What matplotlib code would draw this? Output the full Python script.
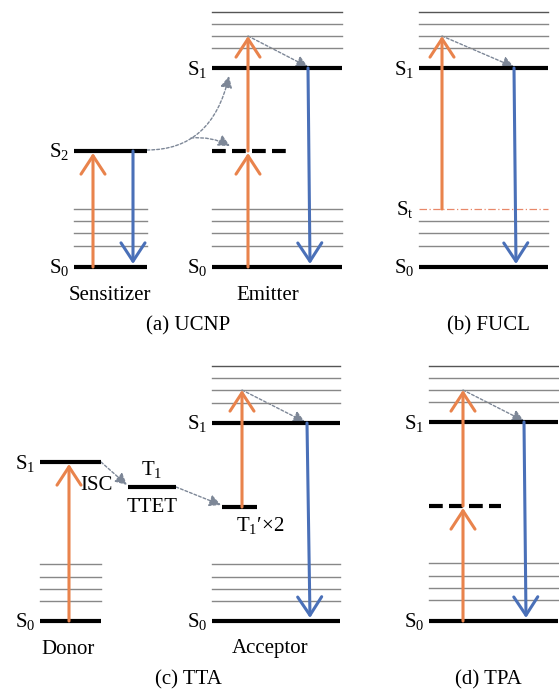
import numpy as np
import matplotlib.pyplot as plt
from matplotlib.patches import FancyArrowPatch
from matplotlib.path import Path

plt.rcParams['font.family'] = ['Liberation Serif', 'DejaVu Serif']
plt.rcParams['mathtext.fontset'] = 'custom'
plt.rcParams['mathtext.rm'] = 'Liberation Serif'
plt.rcParams['mathtext.it'] = 'Liberation Serif:italic'

# energy levels, in diagram units (y grows downward)
# (a) UCNP
sens_x = (74, 147)
sens_S0, sens_S2 = 267, 151
sens_thin = [209, 221, 233, 246]
emit_x = (212, 342)
emit_S0, emit_S1, emit_virt = 267, 68, 151
emit_virt_x = (212, 286)
emit_thin_low = [209, 221, 233, 246]
emit_thin_up = [12, 24, 36, 48]
# (b) FUCL
fucl_x = (419, 548)
fucl_S0, fucl_S1, fucl_St = 267, 68, 209
fucl_thin_low = [221, 233, 246]
fucl_thin_up = [12, 24, 36, 48]
# (c) TTA
don_x = (40, 101)
don_S0, don_S1 = 621, 462
don_thin = [564, 577, 589, 601]
t1_x, t1_y = (128, 176), 487
t1p_x, t1p_y = (222, 257), 507
acc_x = (212, 340)
acc_S0, acc_S1 = 621, 423
acc_thin_up = [366, 378, 390, 403]
acc_thin_low = [564, 577, 589, 601]
# (d) TPA
tpa_x = (429, 558)
tpa_S0, tpa_S1, tpa_virt = 621, 422, 506
tpa_virt_x = (429, 501)
tpa_thin_up = [366, 378, 390, 402]
tpa_thin_low = [563, 576, 588, 600]

ORANGE = '#e9834c'
BLUE = '#4a70b8'
GREY = '#7d8797'
FS = 15

fig = plt.figure(figsize=(5.59, 6.92), dpi=100)
ax = fig.add_axes([0, 0, 1, 1])
ax.set_xlim(0, 559)
ax.set_ylim(692, 0)
ax.axis('off')


def thick(xs, y, **kw):
    ax.plot(xs, [y, y], color='black', lw=3.0, solid_capstyle='butt', **kw)


def dashed(xs, y):
    ax.plot(xs, [y, y], color='black', lw=3.0, linestyle=(0, (3.3, 1.5)),
            dash_capstyle='butt')


def thin(xs, ys):
    for i, y in enumerate(ys):
        c = '#555555' if i == 0 and len(ys) == 4 and y in (12, 366) else '#888888'
        ax.plot(xs, [y, y], color=c, lw=1.0)


def arrow(x0, y0, x1, y1, color):
    ax.annotate('', xy=(x1, y1), xytext=(x0, y0),
                arrowprops=dict(arrowstyle='->,head_length=0.55,head_width=0.36',
                                color=color, lw=2.2, shrinkA=0, shrinkB=0,
                                mutation_scale=24))


RELAX_KW = dict(arrowstyle='-|>,head_length=0.5,head_width=0.25', mutation_scale=14,
                color=GREY, lw=1.0, linestyle=(0, (2, 1.5)), shrinkA=0, shrinkB=0)


def relax(x0, y0, x1, y1, rad=0.0):
    p = FancyArrowPatch((x0, y0), (x1, y1), connectionstyle='arc3,rad=%s' % rad, **RELAX_KW)
    ax.add_patch(p)


def slabel(x, y, main, sub):
    ax.text(x - 5, y + 1, main + r'$_\mathrm{%s}$' % sub, fontsize=FS, ha='right', va='center')


# ---- (a) UCNP ----
thin(sens_x, sens_thin)
thick(sens_x, sens_S0)
thick(sens_x, sens_S2)
slabel(sens_x[0], sens_S0, 'S', '0')
slabel(sens_x[0], sens_S2, 'S', '2')
arrow(93, sens_S0, 93, sens_S2 + 2, ORANGE)
arrow(133, sens_S2, 133, sens_S0 - 3, BLUE)

thin(emit_x, emit_thin_low)
thin(emit_x, emit_thin_up)
thick(emit_x, emit_S0)
thick(emit_x, emit_S1)
dashed(emit_virt_x, emit_virt)
slabel(emit_x[0], emit_S0, 'S', '0')
slabel(emit_x[0], emit_S1, 'S', '1')
arrow(248, emit_S0, 248, emit_virt + 2, ORANGE)
arrow(248, emit_virt, 248, emit_thin_up[2], ORANGE)
relax(248, emit_thin_up[2], 308, emit_S1 - 1)
arrow(308, emit_S1, 310, emit_S0 - 3, BLUE)
# energy transfer from sensitizer S2 to emitter
curve = Path([(147, 150), (212, 150), (229, 76)], [Path.MOVETO, Path.CURVE3, Path.CURVE3])
ax.add_patch(FancyArrowPatch(path=curve, **RELAX_KW))
relax(191, 138, 230, 146, rad=-0.15)
ax.text(110, 296, 'Sensitizer', fontsize=FS, ha='center', va='center')
ax.text(268, 296, 'Emitter', fontsize=FS, ha='center', va='center')
ax.text(188, 326, '(a) UCNP', fontsize=FS, ha='center', va='center')

# ---- (b) FUCL ----
thin(fucl_x, fucl_thin_low)
thin(fucl_x, fucl_thin_up)
ax.plot(fucl_x, [fucl_St, fucl_St], color='#e8886a', lw=0.9, linestyle=(0, (6, 2, 1, 2)))
thick(fucl_x, fucl_S0)
thick(fucl_x, fucl_S1)
slabel(fucl_x[0], fucl_S0, 'S', '0')
slabel(fucl_x[0], fucl_S1, 'S', '1')
slabel(fucl_x[0], fucl_St, 'S', 't')
arrow(442, fucl_St, 442, fucl_thin_up[2], ORANGE)
relax(442, fucl_thin_up[2], 514, fucl_S1 - 1)
arrow(514, fucl_S1, 516, fucl_S0 - 3, BLUE)
ax.text(488, 326, '(b) FUCL', fontsize=FS, ha='center', va='center')

# ---- (c) TTA ----
thin(don_x, don_thin)
thick(don_x, don_S0)
thick(don_x, don_S1)
slabel(don_x[0], don_S0, 'S', '0')
slabel(don_x[0], don_S1, 'S', '1')
arrow(69, don_S0, 69, don_S1 + 2, ORANGE)
thick(t1_x, t1_y)
thick(t1p_x, t1p_y)
relax(don_x[1], don_S1, t1_x[0] - 1, t1_y - 2)
relax(t1_x[1], t1_y, t1p_x[0] - 1, t1p_y - 2)
ax.text(96, 486, 'ISC', fontsize=FS, ha='center', va='center')
ax.text(152, 469, r'T$_\mathrm{1}$', fontsize=FS, ha='center', va='center')
ax.text(152, 508, 'TTET', fontsize=FS, ha='center', va='center')
ax.text(260, 525, r'T$_\mathrm{1}$′×2', fontsize=FS, ha='center', va='center')

thin(acc_x, acc_thin_up)
thin(acc_x, acc_thin_low)
thick(acc_x, acc_S0)
thick(acc_x, acc_S1)
slabel(acc_x[0], acc_S0, 'S', '0')
slabel(acc_x[0], acc_S1, 'S', '1')
arrow(242, t1p_y, 242, acc_thin_up[2], ORANGE)
relax(242, acc_thin_up[2], 305, acc_S1 - 1)
arrow(307, acc_S1, 310, acc_S0 - 3, BLUE)
ax.text(68, 649, 'Donor', fontsize=FS, ha='center', va='center')
ax.text(270, 649, 'Acceptor', fontsize=FS, ha='center', va='center')
ax.text(188, 680, '(c) TTA', fontsize=FS, ha='center', va='center')

# ---- (d) TPA ----
thin(tpa_x, tpa_thin_up)
thin(tpa_x, tpa_thin_low)
thick(tpa_x, tpa_S0)
thick(tpa_x, tpa_S1)
dashed(tpa_virt_x, tpa_virt)
slabel(tpa_x[0], tpa_S0, 'S', '0')
slabel(tpa_x[0], tpa_S1, 'S', '1')
arrow(463, tpa_S0, 463, tpa_virt + 2, ORANGE)
arrow(463, tpa_virt, 463, tpa_thin_up[2], ORANGE)
relax(463, tpa_thin_up[2], 524, tpa_S1 - 1)
arrow(524, tpa_S1, 526, tpa_S0 - 3, BLUE)
ax.text(488, 680, '(d) TPA', fontsize=FS, ha='center', va='center')

fig.savefig('out.png', dpi=100)
